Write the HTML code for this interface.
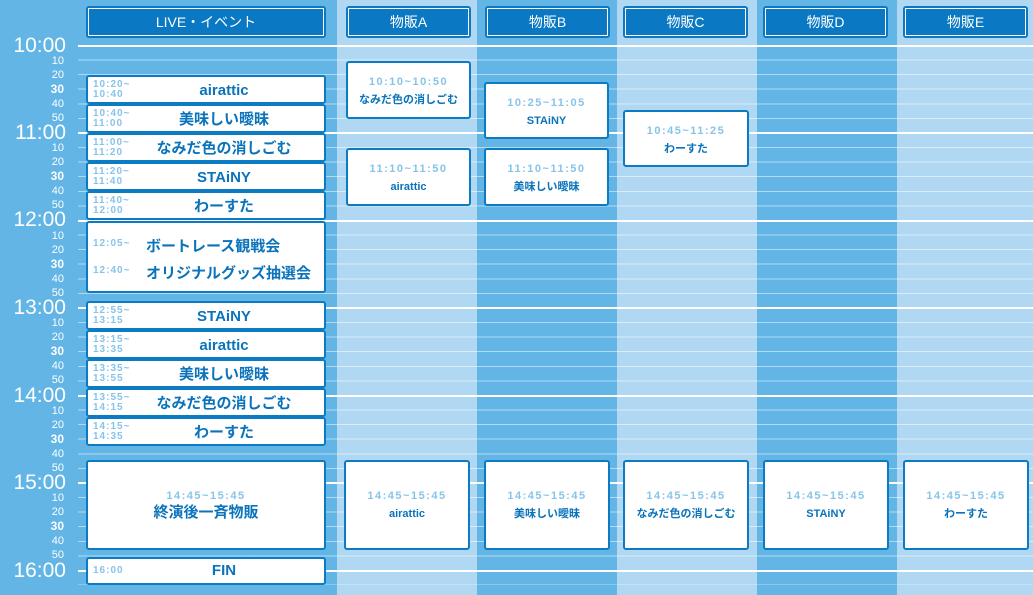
<!DOCTYPE html>
<html><head><meta charset="utf-8"><style>
*{margin:0;padding:0;box-sizing:border-box}
body{width:1033px;height:595px;overflow:hidden;position:relative;background:#62b5e5;font-family:"Liberation Sans","Noto Sans CJK JP",sans-serif}
.col{position:absolute;top:0;height:595px}
.lt{background:#b0d8f3}
.grid{position:absolute;left:78px;top:45px;width:955px;height:540px;background:repeating-linear-gradient(to bottom,rgba(255,255,255,.5) 0 1px,transparent 1px 14.583px)}
.hl{position:absolute;left:78px;width:955px;height:2px;background:#fff}
.hd{position:absolute;top:6px;height:32px;background:#0a78c2;border-radius:3px;padding:2px}
.hd div{border:1px solid #fff;height:100%;color:#fff;font-size:14px;text-align:center;line-height:26px}
.hr{position:absolute;left:0;width:66px;text-align:right;color:#fff;font-size:21px;line-height:20px}
.mn{position:absolute;left:0;width:64px;text-align:right;color:#fff;font-size:11px;line-height:11px}
.mn.b{font-weight:bold;font-size:12px}
.bx{position:absolute;background:#fff;border:2px solid #0b7cc3;border-radius:3px;color:#0a73bb}
.lv{left:86px;width:240px}
.lv .t{position:absolute;left:5px;top:3px;font-size:10px;line-height:10px;font-weight:bold;color:#86c4ea;letter-spacing:1px}
.lv .n{position:absolute;left:0;right:0;text-align:center;padding-left:36px;top:5px;font-size:15px;font-weight:bold;line-height:18px}
.m{text-align:center}
.m .t{font-size:11px;font-weight:bold;color:#86c4ea;letter-spacing:1.5px;line-height:14px}
.m .n{font-size:11px;font-weight:bold;line-height:14px;margin-top:4px}
</style></head><body>
<div class="col lt" style="left:337px;width:140px"></div>
<div class="col lt" style="left:617px;width:140px"></div>
<div class="col lt" style="left:897px;width:136px"></div>
<div class="grid"></div>
<div class="hl" style="top:45px"></div><div class="hl" style="top:132px"></div><div class="hl" style="top:220px"></div><div class="hl" style="top:307px"></div><div class="hl" style="top:395px"></div><div class="hl" style="top:482px"></div><div class="hl" style="top:570px"></div>

<div class="hd" style="left:86px;width:240px"><div>LIVE・イベント</div></div>
<div class="hd" style="left:346px;width:125px"><div>物販A</div></div>
<div class="hd" style="left:485px;width:125px"><div>物販B</div></div>
<div class="hd" style="left:623px;width:125px"><div>物販C</div></div>
<div class="hd" style="left:763px;width:125px"><div>物販D</div></div>
<div class="hd" style="left:903px;width:125px"><div>物販E</div></div>

<div class="hr" style="top:36px">10:00</div>
<div class="mn" style="top:56px">10</div><div class="mn" style="top:70px">20</div><div class="mn b" style="top:84px">30</div><div class="mn" style="top:99px">40</div><div class="mn" style="top:113px">50</div>
<div class="hr" style="top:123px">11:00</div>
<div class="mn" style="top:143px">10</div><div class="mn" style="top:157px">20</div><div class="mn b" style="top:171px">30</div><div class="mn" style="top:186px">40</div><div class="mn" style="top:200px">50</div>
<div class="hr" style="top:210px">12:00</div>
<div class="mn" style="top:231px">10</div><div class="mn" style="top:245px">20</div><div class="mn b" style="top:259px">30</div><div class="mn" style="top:274px">40</div><div class="mn" style="top:288px">50</div>
<div class="hr" style="top:298px">13:00</div>
<div class="mn" style="top:318px">10</div><div class="mn" style="top:332px">20</div><div class="mn b" style="top:346px">30</div><div class="mn" style="top:361px">40</div><div class="mn" style="top:375px">50</div>
<div class="hr" style="top:386px">14:00</div>
<div class="mn" style="top:406px">10</div><div class="mn" style="top:420px">20</div><div class="mn b" style="top:434px">30</div><div class="mn" style="top:449px">40</div><div class="mn" style="top:463px">50</div>
<div class="hr" style="top:473px">15:00</div>
<div class="mn" style="top:493px">10</div><div class="mn" style="top:507px">20</div><div class="mn b" style="top:521px">30</div><div class="mn" style="top:536px">40</div><div class="mn" style="top:550px">50</div>
<div class="hr" style="top:561px">16:00</div>

<div class="bx lv" style="top:75px;height:29px"><div class="t">10:20~<br>10:40</div><div class="n">airattic</div></div>
<div class="bx lv" style="top:104px;height:29px"><div class="t">10:40~<br>11:00</div><div class="n">美味しい曖昧</div></div>
<div class="bx lv" style="top:133px;height:29px"><div class="t">11:00~<br>11:20</div><div class="n">なみだ色の消しごむ</div></div>
<div class="bx lv" style="top:162px;height:29px"><div class="t">11:20~<br>11:40</div><div class="n">STAiNY</div></div>
<div class="bx lv" style="top:191px;height:29px"><div class="t">11:40~<br>12:00</div><div class="n">わーすた</div></div>
<div class="bx lv" style="top:221px;height:72px">
<div style="position:absolute;left:5px;top:15px;font-size:10px;font-weight:bold;color:#86c4ea;letter-spacing:1px">12:05~</div>
<div style="position:absolute;left:58px;top:12px;font-size:15px;font-weight:bold">ボートレース観戦会</div>
<div style="position:absolute;left:5px;top:42px;font-size:10px;font-weight:bold;color:#86c4ea;letter-spacing:1px">12:40~</div>
<div style="position:absolute;left:58px;top:39px;font-size:15px;font-weight:bold">オリジナルグッズ抽選会</div></div>
<div class="bx lv" style="top:301px;height:29px"><div class="t">12:55~<br>13:15</div><div class="n">STAiNY</div></div>
<div class="bx lv" style="top:330px;height:29px"><div class="t">13:15~<br>13:35</div><div class="n">airattic</div></div>
<div class="bx lv" style="top:359px;height:29px"><div class="t">13:35~<br>13:55</div><div class="n">美味しい曖昧</div></div>
<div class="bx lv" style="top:388px;height:29px"><div class="t">13:55~<br>14:15</div><div class="n">なみだ色の消しごむ</div></div>
<div class="bx lv" style="top:417px;height:29px"><div class="t">14:15~<br>14:35</div><div class="n">わーすた</div></div>
<div class="bx m" style="left:86px;width:240px;top:460px;height:90px;padding-top:27px"><div class="t">14:45~15:45</div><div class="n" style="font-size:15px;margin-top:1px;line-height:18px">終演後一斉物販</div></div>
<div class="bx lv" style="top:557px;height:28px"><div class="t" style="top:7px">16:00</div><div class="n" style="top:3px">FIN</div></div>

<div class="bx m" style="left:346px;width:125px;top:61px;height:58px;padding-top:12px"><div class="t">10:10~10:50</div><div class="n">なみだ色の消しごむ</div></div>
<div class="bx m" style="left:346px;width:125px;top:148px;height:58px;padding-top:12px"><div class="t">11:10~11:50</div><div class="n">airattic</div></div>
<div class="bx m" style="left:484px;width:125px;top:82px;height:57px;padding-top:12px"><div class="t">10:25~11:05</div><div class="n">STAiNY</div></div>
<div class="bx m" style="left:484px;width:125px;top:148px;height:58px;padding-top:12px"><div class="t">11:10~11:50</div><div class="n">美味しい曖昧</div></div>
<div class="bx m" style="left:623px;width:126px;top:110px;height:57px;padding-top:12px"><div class="t">10:45~11:25</div><div class="n">わーすた</div></div>

<div class="bx m" style="left:344px;width:126px;top:460px;height:90px;padding-top:27px"><div class="t">14:45~15:45</div><div class="n">airattic</div></div>
<div class="bx m" style="left:484px;width:126px;top:460px;height:90px;padding-top:27px"><div class="t">14:45~15:45</div><div class="n">美味しい曖昧</div></div>
<div class="bx m" style="left:623px;width:126px;top:460px;height:90px;padding-top:27px"><div class="t">14:45~15:45</div><div class="n">なみだ色の消しごむ</div></div>
<div class="bx m" style="left:763px;width:126px;top:460px;height:90px;padding-top:27px"><div class="t">14:45~15:45</div><div class="n">STAiNY</div></div>
<div class="bx m" style="left:903px;width:126px;top:460px;height:90px;padding-top:27px"><div class="t">14:45~15:45</div><div class="n">わーすた</div></div>
</body></html>
